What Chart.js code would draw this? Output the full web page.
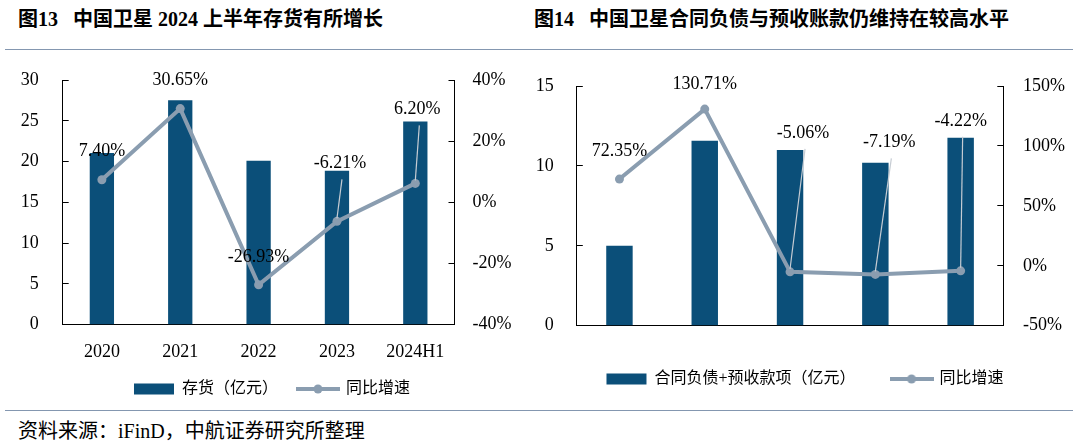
<!DOCTYPE html>
<html>
<head>
<meta charset="utf-8">
<script src="https://cdn.jsdelivr.net/npm/chart.js@4.4.1/dist/chart.umd.min.js"></script>
<style>
  html, body { margin: 0; padding: 0; background: #fff; }
  #page { position: relative; width: 1080px; height: 448px; overflow: hidden;
    font-family: "Liberation Serif", "Noto Sans CJK SC", serif; color: #000; }
  .title { position: absolute; top: 9px; font-size: 20px; line-height: 20px; font-weight: bold; white-space: nowrap; }
  .title .no { margin-right: 15px; }
  .rule { position: absolute; left: 5px; width: 1068px; height: 1px; background: #8497b0; }
  .src { position: absolute; left: 18px; top: 421px; font-size: 20px; line-height: 20px; white-space: nowrap; }
  canvas { position: absolute; top: 60px; }
</style>
</head>
<body>
<div id="page">
  <div class="title" style="left:18px"><span class="no">图13</span>中国卫星 2024 上半年存货有所增长</div>
  <div class="title" style="left:534px"><span class="no">图14</span>中国卫星合同负债与预收账款仍维持在较高水平</div>
  <div class="rule" style="top:49px"></div>
  <canvas id="c1" width="540" height="352" style="left:0"></canvas>
  <canvas id="c2" width="570" height="345" style="left:520px"></canvas>
  <div class="rule" style="top:410px"></div>
  <div class="src">资料来源：iFinD，中航证券研究所整理</div>
</div>
<script>
/* Two combo charts: bars (亿元) on the left axis + YoY growth line on the right axis. */

const years = ['2020', '2021', '2022', '2023', '2024H1'];
const inventory = [21.06, 27.52, 20.11, 18.86, 24.90];     // 存货（亿元）
const inventoryYoY = [7.40, 30.65, -26.93, -6.21, 6.20];   // 同比增速 %
const contract = [5.01, 11.58, 10.99, 10.20, 11.76];       // 合同负债+预收款项（亿元）
const contractYoY = [72.35, 130.71, -5.06, -7.19, -4.22];  // 同比增速 %

const BAR = '#0b4f79';
const LINE = '#8a9db0';
const LEAD = '#c6ccd3';
const FONT = '"Liberation Serif", "Noto Sans CJK SC", serif';

// legend marker for the line series: short thick line with a dot
function lineMarker() {
  const c = document.createElement('canvas');
  c.width = 44; c.height = 12;
  const g = c.getContext('2d');
  g.strokeStyle = LINE; g.lineWidth = 4;
  g.beginPath(); g.moveTo(0, 6); g.lineTo(44, 6); g.stroke();
  g.fillStyle = LINE;
  g.beginPath(); g.arc(22, 6, 4.5, 0, Math.PI * 2); g.fill();
  return c;
}
const marker = lineMarker();

// percentage labels above the line points, with leader lines when moved far away
const pctLabels = {
  id: 'pctLabels',
  afterDatasetsDraw(chart, args, opts) {
    const meta = chart.getDatasetMeta(1);
    const vals = chart.data.datasets[1].data;
    const ctx = chart.ctx;
    ctx.save();
    ctx.font = '18px ' + FONT;
    ctx.fillStyle = '#000';
    ctx.textAlign = 'center';
    ctx.textBaseline = 'middle';
    meta.data.forEach((pt, i) => {
      const [dx, dy] = opts.shift[i];
      const lx = pt.x + dx, ly = pt.y + dy;
      if (dy < -40) {
        ctx.strokeStyle = LEAD; ctx.lineWidth = 1.2;
        ctx.beginPath(); ctx.moveTo(lx + 2, ly + 16); ctx.lineTo(pt.x, pt.y - 3); ctx.stroke();
      }
      ctx.fillText(vals[i].toFixed(2) + '%', lx, ly);
    });
    ctx.restore();
  },
};

const tickFont = { family: FONT, size: 18 };

function yAxis(pos, min, max, step, pad, width, pct) {
  return {
    position: pos, min, max,
    grid: { display: true, drawOnChartArea: false, drawTicks: true, tickLength: -6, color: '#000', lineWidth: 1 },
    border: { display: true, color: '#000', width: 1 },
    ticks: { stepSize: step, color: '#000', font: tickFont, padding: pad,
      callback: (v) => (pct ? v + '%' : v) },
    // fixed width; drop the label padding so the plot top follows layout.padding
    afterFit: (s) => { s.width = width; s.paddingTop = 0; s.paddingBottom = 0; },
  };
}

function makeChart(el, o) {
  return new Chart(el, {
    type: 'bar',
    data: {
      labels: years,
      datasets: [
        { type: 'bar', label: o.barLabel, data: o.bars, yAxisID: 'y', backgroundColor: BAR,
          borderWidth: 0, barPercentage: 0.31, categoryPercentage: 1, order: 2 },
        { type: 'line', label: '同比增速', data: o.yoy, yAxisID: 'y1', borderColor: LINE,
          backgroundColor: LINE, borderWidth: 4, pointRadius: 4.5, pointBackgroundColor: LINE,
          pointBorderWidth: 0, tension: 0, order: 1 },
      ],
    },
    options: {
      responsive: false,
      animation: false,
      layout: { padding: o.pad },
      plugins: {
        tooltip: { enabled: false },
        legend: {
          position: 'bottom',
          labels: {
            usePointStyle: true, pointStyleWidth: 40, boxHeight: 11,
            padding: o.legendGap, color: '#000', font: { family: FONT, size: 16 },
            generateLabels: () => [
              { text: o.barLabel, fillStyle: BAR, strokeStyle: BAR, lineWidth: 0, pointStyle: 'rect', datasetIndex: 0 },
              { text: '同比增速', fillStyle: LINE, strokeStyle: LINE, lineWidth: 0, pointStyle: marker, datasetIndex: 1 },
            ],
          },
        },
        pctLabels: { shift: o.shift },
      },
      scales: {
        x: {
          grid: { display: false, drawTicks: false },
          border: { display: true, color: '#000', width: 1 },
          ticks: { color: '#000', font: tickFont, padding: 17 },
          afterFit: (s) => { s.height = o.xH; },
        },
        y: yAxis('left', o.left[0], o.left[1], o.left[2], o.leftPad, o.leftW, false),
        y1: yAxis('right', o.right[0], o.right[1], o.right[2], o.rightPad, o.rightW, true),
      },
    },
    plugins: [pctLabels],
  });
}

makeChart(document.getElementById('c1'), {
  barLabel: '存货（亿元）', bars: inventory, yoy: inventoryYoY,
  left: [0, 30, 5], right: [-40, 40, 20],
  pad: { left: 4, right: 0, top: 20, bottom: 5 },
  leftW: 58.7, rightW: 85.5, leftPad: 30, rightPad: 24, xH: 36.3, legendGap: 20,
  shift: [[0, -28], [0, -28], [0, -27], [3, -58], [2, -74]],
});

makeChart(document.getElementById('c2'), {
  barLabel: '合同负债+预收款项（亿元）', bars: contract, yoy: contractYoY,
  left: [0, 15, 5], right: [-50, 150, 50],
  pad: { left: 0, right: 0, top: 26, bottom: 8 },
  leftW: 56.8, rightW: 86.7, leftPad: 29, rightPad: 25.7, xH: 9.3, legendGap: 36,
  shift: [[0, -28], [0, -25], [13, -139], [14, -132], [0, -150]],
});
</script>
</body>
</html>
